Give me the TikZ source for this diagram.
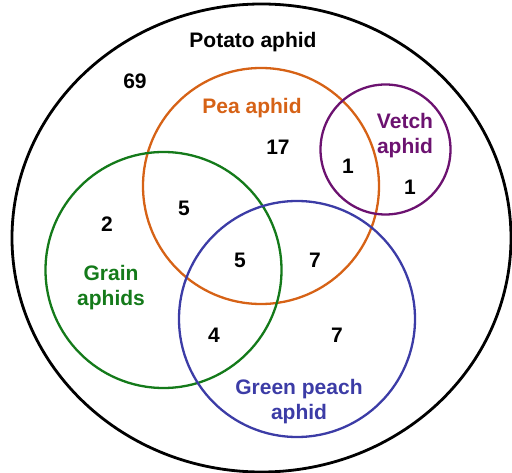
\documentclass[tikz,border=0pt]{standalone}
\usepackage{fontspec}
\setmainfont{Liberation Sans}
\usetikzlibrary{calc}

\definecolor{peaorange}{RGB}{214,98,22}
\definecolor{graingreen}{RGB}{20,122,26}
\definecolor{peachblue}{RGB}{60,60,166}
\definecolor{vetchpurple}{RGB}{108,18,112}

\begin{document}
\begin{tikzpicture}[x=1pt, y=-1pt, every node/.style={font=\fontsize{21}{25}\selectfont\bfseries, align=center, inner sep=0pt}]
	\useasboundingbox (0,0) rectangle (512,473);

	\def\rad{118pt}
	\def\lw{2.3pt}

	\draw[line width=2.8pt] (261.5,238) ellipse [x radius=249.5pt, y radius=234pt];
	\draw[peaorange, line width=\lw] (261,186) circle (\rad);
	\draw[vetchpurple, line width=\lw] (385.5,149.5) circle (65pt);
	\draw[graingreen, line width=\lw] (163.5,270) circle (\rad);
	\draw[peachblue, line width=\lw] (297,319) circle (\rad);

	\node[anchor=base] (potato) at (253,48) {Potato aphid};
	\node[anchor=base, peaorange] (pea) at (252,114) {Pea aphid};
	\node[vetchpurple] (vetch) at (405,136) {Vetch\\aphid};
	\node[graingreen] (grain) at (111,288) {Grain\\aphids};
	\node[peachblue] (peach) at (299,402) {Green peach\\aphid};

	\foreach \name/\x/\y/\val in {a/135/89/69, b/278/155/17, c/348/174/1, d/410/195/1,
		e/107/232/2, f/184/216/5, g/240/268/5, h/315/268/7, i/214/343/4, j/337/343/7}
		\node[anchor=base] (n\name) at (\x,\y) {\val};

\end{tikzpicture}
\end{document}
